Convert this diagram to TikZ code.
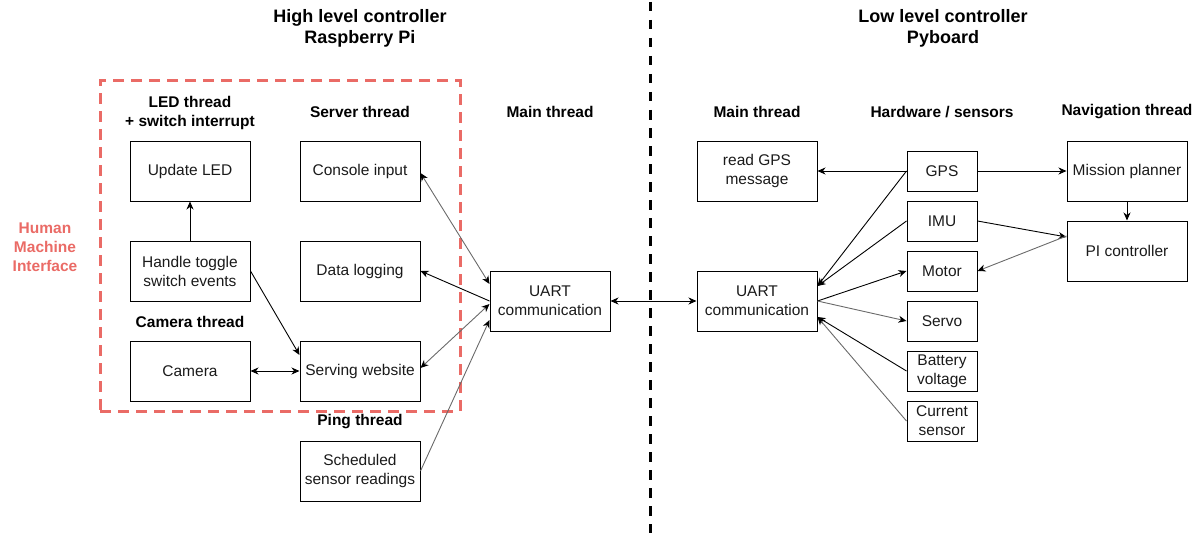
\documentclass[tikz,border=0pt]{standalone}
\usepackage{fontspec}
\setmainfont{Liberation Sans}
\usetikzlibrary{arrows.meta}
\definecolor{hmired}{HTML}{EA6B66}
\definecolor{txt}{HTML}{1A1A1A}
\definecolor{lgray}{HTML}{6A6A6A}
\tikzset{
  bx/.style={draw, line width=1pt, minimum width=120pt, minimum height=60pt, inner sep=0pt, align=center, text=txt, font=\fontsize{15.5pt}{19pt}\selectfont},
  sbx/.style={bx, minimum width=70pt, minimum height=40pt},
  hd/.style={align=center, inner sep=0pt, font=\fontsize{15.5pt}{19pt}\selectfont\bfseries},
  ttl/.style={align=center, inner sep=0pt, font=\fontsize{18pt}{21pt}\selectfont\bfseries},
  tip/.tip={Stealth[length=8pt,width=7pt,inset=2.5pt,color=black]},
  conn/.style={line width=0.9pt, draw=black},
  conng/.style={line width=0.9pt, draw=lgray},
}
\begin{document}
\begin{tikzpicture}[x=1pt,y=-1pt]
\useasboundingbox (0,0) rectangle (1203,535);
% titles
\node[ttl] (t1) at (360,28) {High level controller\\Raspberry Pi};
\node[ttl] (t2) at (943,28) {Low level controller\\Pyboard};
% vertical divider
\coordinate (vtop) at (650,2);
\coordinate (vbot) at (650,533);
\draw[line width=3pt, dash pattern=on 9.5pt off 8.5pt] (vtop) -- (vbot);
% HMI area
\node[draw=hmired, line width=3pt, dash pattern=on 11pt off 7pt, minimum width=360pt, minimum height=330pt, inner sep=0pt] (hmiarea) at (280,246) {};
\node[hd, text=hmired] (hmi) at (45,247) {Human\\Machine\\Interface};
% headings
\node[hd] (hled) at (190,112.5) {LED thread\\+ switch interrupt};
\node[hd] (hsrv) at (360,112) {Server thread};
\node[hd] (hmain1) at (550,112) {Main thread};
\node[hd] (hmain2) at (757,112) {Main thread};
\node[hd] (hhw) at (942,112) {Hardware / sensors};
\node[hd] (hnav) at (1127,112) {Navigation thread};
\node[hd] (hcam) at (190,322) {Camera thread};
\node[hd] (hping) at (360,422) {Ping thread};
% left boxes
\node[bx] (upd) at (190,171) {Update LED};
\node[bx] (con) at (360,171) {Console input};
\node[bx] (hts) at (190,271) {Handle toggle\\switch events};
\node[bx] (dlog) at (360,271) {Data logging};
\node[bx] (cam) at (190,371) {Camera};
\node[bx] (serv) at (360,371) {Serving website};
\node[bx] (sched) at (360,471) {Scheduled\\sensor readings};
\node[bx] (uartL) at (550,301) {UART\\communication};
% right boxes
\node[bx] (uartR) at (757,301) {UART\\communication};
\node[bx] (gpsmsg) at (757,171) {read GPS\\message};
\node[sbx] (gps) at (942,171) {GPS};
\node[sbx] (imu) at (942,221) {IMU};
\node[sbx] (motor) at (942,271) {Motor};
\node[sbx] (servo) at (942,321) {Servo};
\node[sbx] (batt) at (942,371) {Battery\\voltage};
\node[sbx] (curr) at (942,421) {Current\\sensor};
\node[bx] (mission) at (1127,171) {Mission planner};
\node[bx] (pi) at (1127,251) {PI controller};
% left connectors
\draw[conn, -tip] (hts.north) -- (upd.south);
\draw[conn, -tip] (hts.east) -- ([yshift=16pt]serv.west);
\draw[conn, tip-tip] (cam.east) -- (serv.west);
\draw[conng, tip-tip] ([yshift=-2pt]con.east) -- ([yshift=17pt]uartL.west);
\draw[conn, tip-] (dlog.east) -- (uartL.west);
\draw[conng, tip-tip] ([yshift=3pt]serv.east) -- ([yshift=-3pt]uartL.west);
\draw[conng, -tip] (sched.east) -- ([yshift=-19pt]uartL.west);
\draw[conn, tip-tip] (uartL.east) -- (uartR.west);
% right connectors
\draw[conn, -tip] (gps.west) -- (gpsmsg.east);
\draw[conn, -tip] (gps.west) -- ([yshift=15pt]uartR.east);
\draw[conn, -tip] (imu.west) -- ([yshift=15pt]uartR.east);
\draw[conn, -tip] (uartR.east) -- (motor.west);
\draw[conng, -tip] (uartR.east) -- (servo.west);
\draw[conn, -tip] (batt.west) -- ([yshift=-16pt]uartR.east);
\draw[conng, -tip] (curr.west) -- ([yshift=-16pt]uartR.east);
\draw[conn, -tip] (gps.east) -- (mission.west);
\draw[conn, -tip] (mission.south) -- (pi.north);
\draw[conn, -tip] (imu.east) -- ([yshift=14pt]pi.west);
\draw[conng, -tip] ([yshift=15pt]pi.west) -- (motor.east);
\end{tikzpicture}
\end{document}
